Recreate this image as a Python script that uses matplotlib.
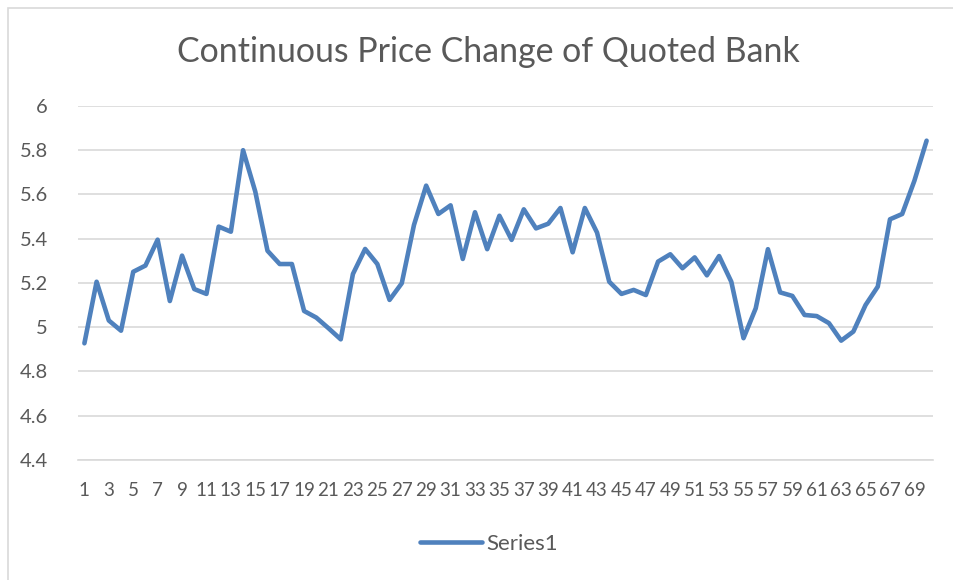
import matplotlib
matplotlib.use("Agg")
import matplotlib.pyplot as plt
from matplotlib.patches import Rectangle

categories = list(range(1, 71))
series1 = [4.927, 5.205, 5.03, 4.984, 5.25, 5.278, 5.395, 5.118, 5.323, 5.172,
           5.15, 5.454, 5.431, 5.799, 5.612, 5.345, 5.285, 5.285, 5.073, 5.043,
           4.995, 4.945, 5.24, 5.353, 5.285, 5.123, 5.198, 5.461, 5.639, 5.511,
           5.55, 5.308, 5.519, 5.352, 5.503, 5.394, 5.532, 5.446, 5.467, 5.538,
           5.338, 5.538, 5.427, 5.205, 5.15, 5.168, 5.145, 5.296, 5.329, 5.266,
           5.315, 5.234, 5.321, 5.205, 4.95, 5.085, 5.352, 5.157, 5.141, 5.055,
           5.05, 5.018, 4.939, 4.98, 5.10, 5.183, 5.487, 5.511, 5.661, 5.842]
yticks = [4.4, 4.6, 4.8, 5, 5.2, 5.4, 5.6, 5.8, 6]
ytick_labels = ["4.4", "4.6", "4.8", "5", "5.2", "5.4", "5.6", "5.8", "6"]
title = "Continuous Price Change of Quoted Bank"
series_name = "Series1"

plt.rcParams['font.family'] = ['Lato', 'DejaVu Sans']
TXT = '#595959'
GRID = '#d9d9d9'
LINE = '#4F81BD'

W, H = 954, 580
fig = plt.figure(figsize=(W / 100, H / 100), dpi=100)
fig.patch.set_facecolor('white')

# chart border (only left/top visible in reference)
fig.patches.append(Rectangle((8 / W, -0.05), 1.2, (H - 7.5) / H + 0.05,
                             transform=fig.transFigure, fill=False,
                             edgecolor=GRID, linewidth=1.2))

left, right, top, bottom = 78.3, 932.7, 105.7, 460.0
ax = fig.add_axes([left / W, (H - bottom) / H, (right - left) / W, (bottom - top) / H])
ax.plot(categories, series1, color=LINE, linewidth=3.3, solid_capstyle='round',
        solid_joinstyle='round', label=series_name, zorder=3)

ax.set_xlim(0.5, len(categories) + 0.5)
ax.set_ylim(4.4, 6.0)
ax.set_yticks(yticks)
ax.set_yticklabels(ytick_labels)
ax.set_xticks(categories[::2])
ax.set_xticklabels([str(c) for c in categories[::2]])
ax.tick_params(axis='both', length=0, colors=TXT)
ax.tick_params(axis='y', pad=22, labelsize=14.5)
ax.tick_params(axis='x', pad=16, labelsize=13.5)
ax.grid(axis='y', color=GRID, linewidth=1.2, zorder=0)
for s in ['top', 'right', 'left']:
    ax.spines[s].set_visible(False)
ax.spines['bottom'].set_color(GRID)
ax.spines['bottom'].set_linewidth(1.2)
ax.set_axisbelow(True)

fig.text(488 / W, 1 - 52 / H, title, ha='center', va='center', fontsize=24.4, color=TXT)

leg = fig.legend(loc='center', bbox_to_anchor=(489 / W, 1 - 544 / H), frameon=False,
                 fontsize=16, handlelength=2.8, handletextpad=0.2, labelcolor=TXT)

fig.savefig('out.png', dpi=100)
